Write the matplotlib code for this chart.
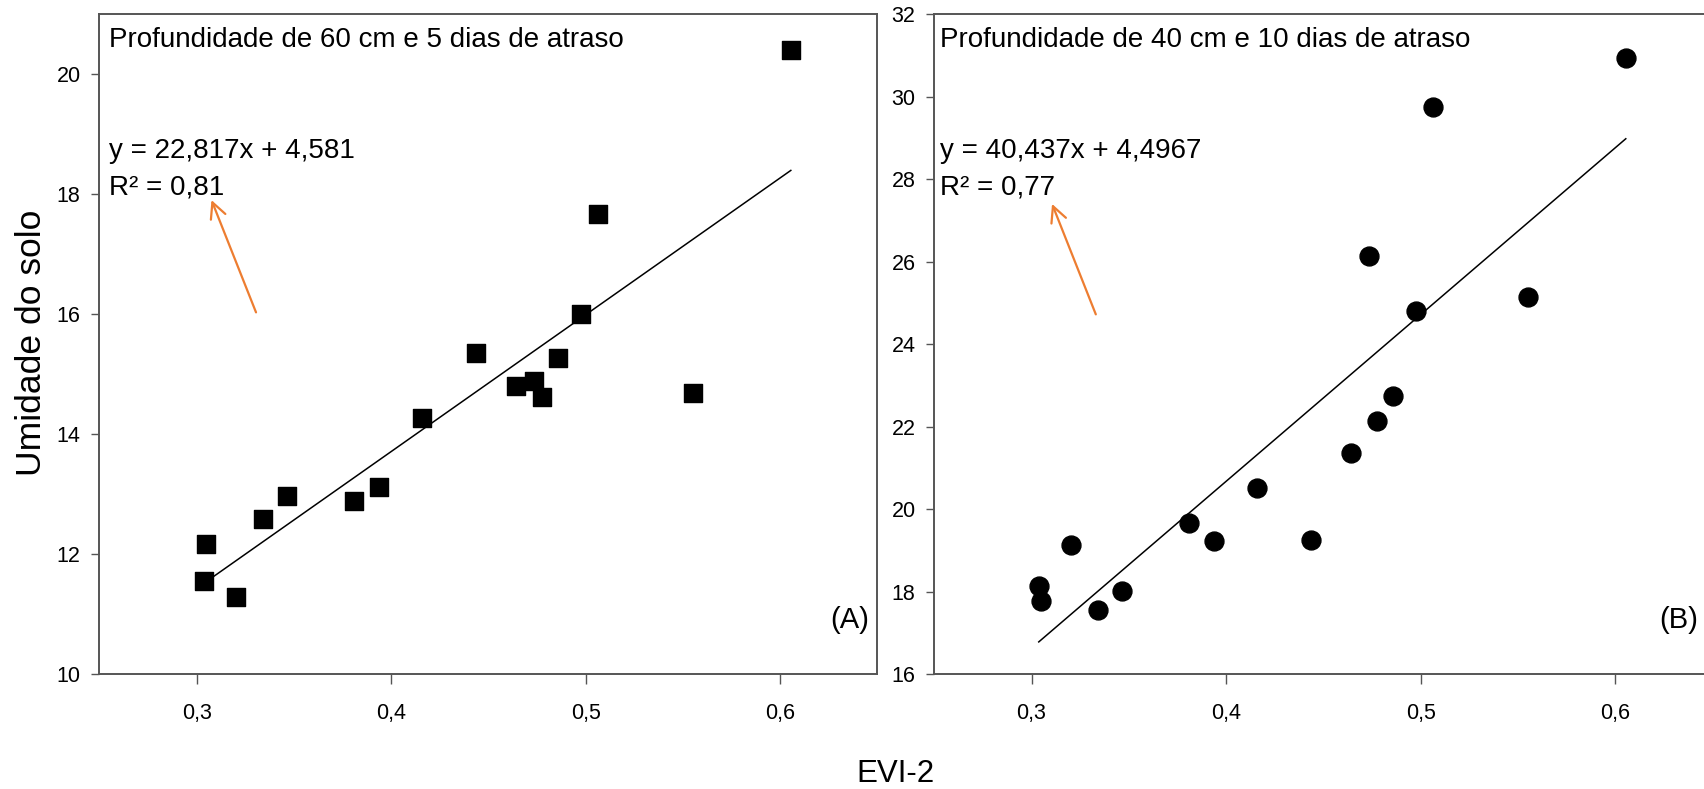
import numpy as np
import matplotlib
matplotlib.use("Agg")
import matplotlib.pyplot as plt

plt.rcParams['font.family'] = ['Liberation Sans', 'DejaVu Sans']

# EVI-2 (mesmo x nos dois paineis)
evi2 = [0.6055, 0.5063, 0.4974, 0.4435, 0.4859, 0.4643, 0.4735, 0.4778, 0.5550,
        0.4161, 0.3939, 0.3807, 0.3467, 0.3343, 0.3049, 0.3037, 0.3202]
# umidade 60 cm, 5 dias de atraso
umid_60 = [20.41, 17.67, 16.00, 15.35, 15.27, 14.81, 14.88, 14.62, 14.69,
           14.27, 13.11, 12.88, 12.96, 12.58, 12.17, 11.55, 11.28]
# umidade 40 cm, 10 dias de atraso
umid_40 = [30.95, 29.76, 24.80, 19.24, 22.75, 21.36, 26.14, 22.14, 25.14,
           20.50, 19.22, 19.65, 18.02, 17.55, 17.77, 18.14, 19.12]

coef_60 = [22.817, 4.581]
coef_40 = [40.437, 4.4967]

titulos = ['Profundidade de 60 cm e 5 dias de atraso',
           'Profundidade de 40 cm e 10 dias de atraso']
equacoes = ['y = 22,817x + 4,581', 'y = 40,437x + 4,4967']
r2 = ['R² = 0,81', 'R² = 0,77']
letras = ['(A)', '(B)']

xticks = [0.3, 0.4, 0.5, 0.6]
xtick_labels = ['0,3', '0,4', '0,5', '0,6']
yticks_60 = [10, 12, 14, 16, 18, 20]
yticks_40 = [16, 18, 20, 22, 24, 26, 28, 30, 32]

fig = plt.figure(figsize=(17.04, 7.89), dpi=100)
ax1 = fig.add_axes([0.0583, 0.1458, 0.4566, 0.8361])
ax2 = fig.add_axes([0.5483, 0.1458, 0.4566, 0.8361])

laranja = '#ED7D31'
cinza = '#555555'

x = np.array(evi2)
xl = np.array([x.min(), x.max()])

# painel A
ax1.scatter(x, umid_60, marker='s', s=160, color='black', zorder=3)
ax1.plot(xl, coef_60[0] * xl + coef_60[1], color='black', lw=1.1)
ax1.set_ylim(10, 21)
ax1.set_yticks(yticks_60)

# painel B
ax2.scatter(x, umid_40, marker='o', s=185, color='black', zorder=3)
ax2.plot(xl, coef_40[0] * xl + coef_40[1], color='black', lw=1.1)
ax2.set_ylim(16, 32)
ax2.set_yticks(yticks_40)

x_txt = [0.0129, 0.007]
x_letra = [0.9897, 0.9816]
for i, ax in enumerate([ax1, ax2]):
    ax.set_xlim(0.25, 0.65)
    ax.set_xticks(xticks)
    ax.set_xticklabels(xtick_labels)
    for s in ax.spines.values():
        s.set_color(cinza)
        s.set_linewidth(1.4)
    ax.tick_params(axis='y', length=5.5, width=1, color=cinza, labelsize=15.5, pad=8)
    ax.tick_params(axis='x', length=7, width=1, color=cinza, labelsize=15.5, pad=14)

    ax.text(x_txt[i], 0.951, titulos[i], transform=ax.transAxes, fontsize=20, va='baseline')
    ax.text(x_txt[i], 0.7822, equacoes[i], transform=ax.transAxes, fontsize=20, va='baseline')
    ax.text(x_txt[i], 0.7272, r2[i], transform=ax.transAxes, fontsize=20, va='baseline')
    ax.text(x_letra[i], 0.069, letras[i], transform=ax.transAxes, fontsize=21,
            ha='right', va='baseline')

# setas laranja apontando para o R²
ax1.annotate('', xy=(0.1428, 0.7223), xytext=(0.2027, 0.5442),
             xycoords='axes fraction', textcoords='axes fraction',
             arrowprops=dict(arrowstyle='->', color=laranja, lw=1.6, mutation_scale=28))
ax2.annotate('', xy=(0.150, 0.7165), xytext=(0.2089, 0.5412),
             xycoords='axes fraction', textcoords='axes fraction',
             arrowprops=dict(arrowstyle='->', color=laranja, lw=1.6, mutation_scale=28))

fig.text(0.0182, 0.566, 'Umidade do solo', rotation=90, fontsize=25.5,
         ha='center', va='center')
fig.text(0.5255, 0.0093, 'EVI-2', fontsize=22.5, ha='center', va='baseline')

plt.savefig('out.png', dpi=100)
